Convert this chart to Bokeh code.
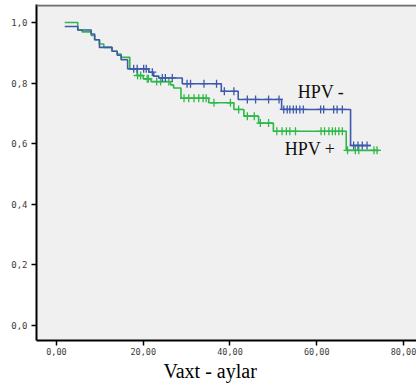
import numpy as np
from bokeh.plotting import figure
from bokeh.models import Range1d, FixedTicker, Span, ColumnDataSource, Title
from bokeh.core.properties import value
from bokeh.embed import file_html
from bokeh.resources import INLINE

# ---- data ----
neg_t = [1.9, 4.9, 8.0, 8.8, 9.9, 12.8, 14.0, 14.9, 16.4, 21.3, 22.4, 23.6, 29.0, 38.0, 41.9, 51.9, 67.8, 72.4]
neg_s = [0.987, 0.975, 0.962, 0.943, 0.918, 0.905, 0.892, 0.877, 0.847, 0.836, 0.823, 0.817, 0.798, 0.773, 0.746, 0.713, 0.594, 0.594]
neg_cens = [17.8, 18.6, 20.1, 20.7, 22.1, 24.4, 25.1, 26.7, 30.1, 30.9, 34.0, 36.9, 38.7, 40.9,
            44.0, 45.9, 48.9, 51.3, 52.4, 53.2, 53.8, 54.6, 55.3, 56.1, 56.9,
            60.9, 61.6, 63.9, 64.7, 65.9, 68.5, 69.5, 70.5, 71.6]

pos_t = [1.9, 4.9, 5.9, 8.0, 8.8, 9.9, 10.9, 12.8, 14.0, 14.9, 16.9, 18.6, 20.0, 21.8, 26.3, 27.0, 28.7,
         35.1, 40.9, 43.2, 46.6, 50.0, 66.8, 74.3]
pos_s = [1.0, 0.975, 0.969, 0.957, 0.943, 0.929, 0.918, 0.905, 0.896, 0.885, 0.847, 0.825, 0.814, 0.805,
         0.794, 0.784, 0.750, 0.735, 0.713, 0.691, 0.668, 0.641, 0.578, 0.578]
pos_cens = [18.7, 19.4, 20.9, 21.2, 23.1, 24.0, 25.9, 29.4, 30.5, 31.7, 32.8, 33.8, 34.5, 36.3, 40.1,
            42.0, 44.0, 45.6, 47.0, 48.9, 50.8, 52.0, 53.0, 53.8, 55.1,
            61.0, 61.8, 62.8, 63.6, 64.3, 65.1, 65.9, 67.1, 68.9, 69.7, 73.2, 73.9]

x_ticks = [0, 20, 40, 60, 80]
x_tick_labels = ["0,00", "20,00", "40,00", "60,00", "80,00"]
y_ticks = [0.0, 0.2, 0.4, 0.6, 0.8, 1.0]
y_tick_labels = ["0,0", "0,2", "0,4", "0,6", "0,8", "1,0"]

series_labels = ["HPV -", "HPV +"]
x_title = "Vaxt - aylar"
BLUE = "#3E58AC"
GREEN = "#2EB848"


def surv_at(ts, ss, times):
    ts = np.asarray(ts)
    ss = np.asarray(ss)
    idx = np.searchsorted(ts, np.asarray(times), side="right") - 1
    return ss[np.clip(idx, 0, len(ss) - 1)]


p = figure(width=416, height=386, output_backend="svg", toolbar_location=None,
           x_range=Range1d(-4.611, 83.0), y_range=Range1d(-0.0495, 1.0594),
           min_border_left=36, min_border_right=0, min_border_top=4, min_border_bottom=0)
p.background_fill_color = "#f0f0f0"
p.border_fill_color = "white"
p.outline_line_color = None
p.grid.visible = False

for ax, ticks, labels in ((p.xaxis[0], x_ticks, x_tick_labels), (p.yaxis[0], y_ticks, y_tick_labels)):
    ax.ticker = FixedTicker(ticks=ticks)
    ax.major_label_overrides = {t: l for t, l in zip(ticks, labels)}
    ax.axis_line_color = "black"
    ax.axis_line_width = 2
    ax.major_tick_line_color = "black"
    ax.major_tick_line_width = 1.5
    ax.major_tick_out = 5
    ax.major_tick_in = 0
    ax.minor_tick_line_color = None
    ax.major_label_text_font = "DejaVu Sans Mono"
    ax.major_label_text_color = "#3c3c3c"

p.xaxis.major_label_text_font_size = "8.5px"
p.yaxis.major_label_text_font_size = "9px"
p.xaxis.major_label_standoff = 2
p.yaxis.major_label_standoff = 4

p.add_layout(Title(text=x_title, align="left", offset=127, standoff=0,
                   text_font="Liberation Serif", text_font_size="20px", text_font_style="normal",
                   text_color="black"), "below")
# small blank strip under the axis title
p.add_layout(Title(text=" ", standoff=0, text_font_size="3px"), "below")

p.add_layout(Span(location=1.0561, dimension="width", line_color="#6e6e6e", line_width=2))

for ts, ss, cens, col in ((pos_t, pos_s, pos_cens, GREEN), (neg_t, neg_s, neg_cens, BLUE)):
    p.step(ts, ss, mode="after", line_color=col, line_width=1.6)
    src = ColumnDataSource(dict(x=cens, y=surv_at(ts, ss, cens)))
    p.scatter("x", "y", source=src, marker="cross", size=8, line_color=col, line_width=1.3)

p.text(x=[55.6, 52.6], y=[0.770, 0.584], text=series_labels, text_font=value("Liberation Serif"),
       text_font_size="18px", text_color="#111111", text_align="left", text_baseline="alphabetic")

open("out.html", "w").write(file_html(p, INLINE))
